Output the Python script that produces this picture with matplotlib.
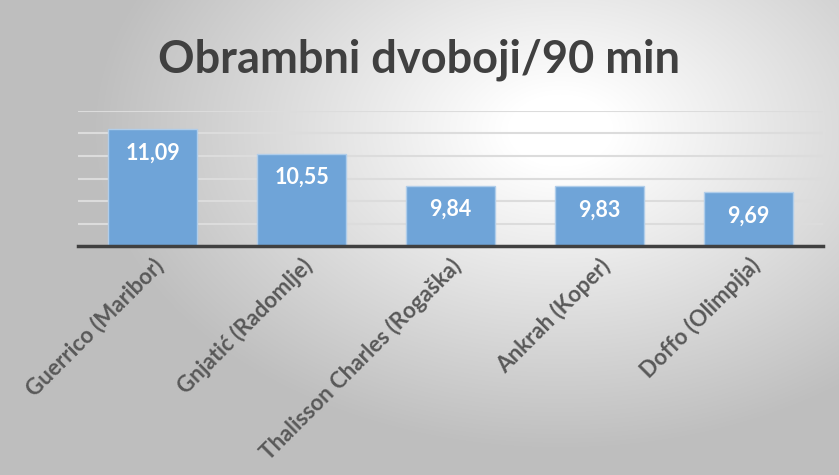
import numpy as np
import matplotlib
matplotlib.use("Agg")
import matplotlib.pyplot as plt

plt.rcParams['font.family'] = ['Lato', 'DejaVu Sans']

categories = ["Guerrico (Maribor)", "Gnjatić (Radomlje)", "Thalisson Charles (Rogaška)",
              "Ankrah (Koper)", "Doffo (Olimpija)"]
values = [11.09, 10.55, 9.84, 9.83, 9.69]
value_labels = ["11,09", "10,55", "9,84", "9,83", "9,69"]
title = "Obrambni dvoboji/90 min"

W, H = 839, 475
fig = plt.figure(figsize=(W / 100, H / 100), dpi=100)

# radial gradient background
bg = fig.add_axes([0, 0, 1, 1], zorder=-10)
yy, xx = np.mgrid[0:H, 0:W]
cx, cy = 560, 130
sx, sy = 440, 300
d = np.sqrt(((xx - cx) / sx) ** 2 + ((yy - cy) / sy) ** 2)
t = np.clip((d - 0.12) / 0.95, 0, 1)
g = 255 - (255 - 190) * t
img = np.dstack([g, g, g]) / 255.0
bg.imshow(img, extent=[0, W, H, 0], aspect='auto', interpolation='bilinear')
bg.set_xlim(0, W)
bg.set_ylim(H, 0)
bg.axis('off')

ax = fig.add_axes([78 / W, (H - 246) / H, (823 - 78) / W, (246 - 111) / H])
ax.patch.set_alpha(0)
x = np.arange(len(categories))
bars = ax.bar(x, [v - 8.5 for v in values], bottom=8.5, width=0.6,
              color='#6fa4d8', edgecolor='#b0cdea', linewidth=1.0, zorder=3)
ax.set_ylim(8.5, 11.5)
ax.set_xlim(-0.5, len(categories) - 0.5)
ax.set_yticks(np.arange(8.5, 11.51, 0.5))
ax.yaxis.grid(True, color='#dcdcdc', linewidth=1.5, zorder=0)
ax.set_axisbelow(True)
ax.tick_params(axis='y', left=False, labelleft=False)
ax.tick_params(axis='x', length=0, pad=6)
for s in ['top', 'right', 'left']:
    ax.spines[s].set_visible(False)
ax.spines['bottom'].set_color('#404040')
ax.spines['bottom'].set_linewidth(2.5)
ax.spines['bottom'].set_zorder(4)

ax.set_xticks(x)
ax.set_xticklabels(categories, rotation=45, ha='right', va='top',
                   rotation_mode='anchor', fontsize=16, fontweight='bold',
                   color='#595959')

for xi, v, lab in zip(x, values, value_labels):
    ax.annotate(lab, (xi, v), xytext=(0, -17), textcoords='offset points',
                ha='center', va='center', color='white', fontsize=15.5,
                fontweight='bold', zorder=5)

fig.text(0.5, 1 - 60 / H, title, ha='center', va='center', fontsize=32.5,
         fontweight='bold', color='#404040')

fig.savefig('out.png', dpi=100)
